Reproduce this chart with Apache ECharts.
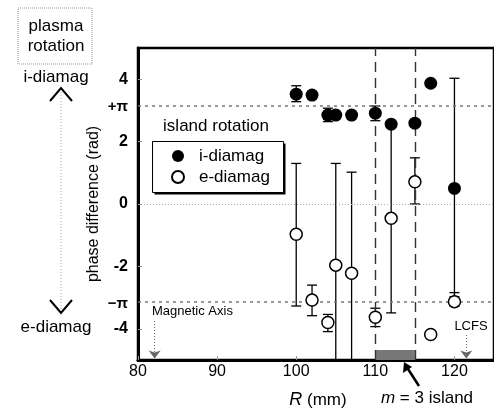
<!DOCTYPE html>
<html>
<head>
<meta charset="utf-8">
<script src="https://cdn.jsdelivr.net/npm/echarts@6/dist/echarts.min.js"></script>
<style>
  html, body { margin: 0; padding: 0; background: #fff; }
  #chart { width: 494px; height: 412px; }
</style>
</head>
<body>
<div id="chart"></div>
<script>
// 岛旋转相位差
const FONT = 'Liberation Sans, Arial, sans-serif';

const xTicks = [80, 90, 100, 110, 120];
const yTicks = [-4, -2, 0, 2, 4];
const piLines = [Math.PI, -Math.PI];
const islandEdges = [110, 115];

// i-diamag (filled)
const iR = [100, 102, 104, 105, 107, 110, 112, 115, 117, 120];
const iPhase = [3.52, 3.49, 2.85, 2.85, 2.85, 2.91, 2.56, 2.59, 3.87, 0.5];
const iLow = [3.28, null, 2.64, null, null, 2.67, null, null, null, -2.97];
const iHigh = [3.79, null, 3.07, null, null, 3.14, null, null, null, 4.03];

// e-diamag (open)
const eR = [100, 102, 104, 105, 107, 110, 112, 115, 117, 120];
const ePhase = [-0.97, -3.08, -3.8, -1.96, -2.22, -3.63, -0.46, 0.71, -4.18, -3.13];
const eLow = [-3.27, -3.58, -4.09, -5.4, -5.4, -3.93, -3.49, 0.0, null, -3.27];
const eHigh = [1.3, -2.6, -3.54, 1.3, 1.02, -3.34, 2.56, 1.48, null, -2.84];

const errData = [];
iR.forEach((r, i) => { if (iLow[i] !== null) errData.push([r, iLow[i], iHigh[i]]); });
eR.forEach((r, i) => { if (eLow[i] !== null) errData.push([r, eLow[i], eHigh[i]]); });

const chart = echarts.init(document.getElementById('chart'));

const capStyle = { stroke: '#000', lineWidth: 1.3 };

chart.setOption({
  animation: false,
  textStyle: { fontFamily: FONT },
  grid: {
    left: 138, top: 48, width: 359, height: 312,
    show: true, borderColor: '#000', borderWidth: 2.5, backgroundColor: '#fff',
  },
  legend: {
    data: ['i-diamag', 'e-diamag'],
    orient: 'vertical',
    left: 152, top: 141,
    padding: [6, 9, 6, 19],
    itemGap: 3,
    itemWidth: 12, itemHeight: 12,
    icon: 'circle',
    textStyle: { fontSize: 17, lineHeight: 18, color: '#000', padding: [0, 0, 0, 10], fontFamily: FONT },
  },
  xAxis: {
    type: 'value', min: 80, max: 125,
    axisLine: { onZero: false, lineStyle: { color: '#000', width: 3 } },
    axisTick: { inside: true, length: 4, lineStyle: { color: '#999' }, customValues: xTicks },
    axisLabel: { customValues: xTicks, color: '#000', fontSize: 16, margin: 4, fontFamily: FONT },
    splitLine: { show: false },
  },
  yAxis: {
    type: 'value', min: -5, max: 5,
    name: 'phase difference (rad)',
    nameLocation: 'middle', nameGap: 36, nameRotate: 90,
    nameTextStyle: { fontSize: 16, color: '#000', fontFamily: FONT },
    axisLine: { onZero: false, lineStyle: { color: '#000', width: 3 } },
    axisTick: { inside: true, length: 4, lineStyle: { color: '#999' }, customValues: yTicks },
    axisLabel: { customValues: yTicks, color: '#000', fontSize: 16, fontWeight: 'bold', margin: 10, fontFamily: FONT },
    splitLine: { show: false },
  },
  series: [
    {
      type: 'custom',
      name: 'err',
      clip: true,
      z: 3,
      data: errData,
      renderItem(params, api) {
        const x = api.value(0);
        const bot = api.coord([x, api.value(1)]);
        const top = api.coord([x, api.value(2)]);
        const hw = 5;
        return {
          type: 'group',
          children: [
            { type: 'line', shape: { x1: top[0], y1: top[1], x2: bot[0], y2: bot[1] }, style: capStyle },
            { type: 'line', shape: { x1: top[0] - hw, y1: top[1], x2: top[0] + hw, y2: top[1] }, style: capStyle },
            { type: 'line', shape: { x1: bot[0] - hw, y1: bot[1], x2: bot[0] + hw, y2: bot[1] }, style: capStyle },
          ],
        };
      },
      markLine: {
        silent: true,
        symbol: 'none',
        label: { show: false },
        data: [
          ...piLines.map((v) => ({ yAxis: v, lineStyle: { color: '#777', type: [3, 4], width: 1.5 } })),
          { yAxis: 0, lineStyle: { color: '#aaa', type: [1, 2], width: 1 } },
          ...islandEdges.map((v) => ({ xAxis: v, lineStyle: { color: '#333', type: [10, 6], width: 1.4 } })),
        ],
      },
      markArea: {
        silent: true,
        itemStyle: { color: '#777' },
        data: [[{ coord: [islandEdges[0], -5] }, { coord: [islandEdges[1], -4.68] }]],
      },
    },
    {
      type: 'scatter',
      name: 'i-diamag',
      z: 5,
      symbolSize: 13,
      itemStyle: { color: '#000', opacity: 1 },
      data: iR.map((r, i) => [r, iPhase[i]]),
      markLine: {
        silent: true,
        symbol: ['none', 'arrow'],
        symbolSize: [9, 8],
        label: { show: false },
        lineStyle: { color: '#666', type: [1, 2], width: 1 },
        data: [
          [{ coord: [82.1, -3.75] }, { coord: [82.1, -4.95] }],
          [{ coord: [121.5, -4.2] }, { coord: [121.5, -4.95] }],
        ],
      },
    },
    {
      type: 'scatter',
      name: 'e-diamag',
      z: 5,
      symbolSize: 12,
      itemStyle: { color: '#fff', borderColor: '#000', borderWidth: 1.5, opacity: 1 },
      data: eR.map((r, i) => [r, ePhase[i]]),
    },
  ],
  graphic: [
    { type: 'rect', z: 1, shape: { x: 154.5, y: 143.5, width: 131, height: 51 }, style: { fill: '#000' } },
    { type: 'rect', z: 2, shape: { x: 152.5, y: 141.5, width: 131, height: 51 }, style: { fill: '#fff', stroke: '#000', lineWidth: 1 } },
    { type: 'rect', shape: { x: 18, y: 8, width: 74, height: 56 }, style: { fill: 'none', stroke: '#999', lineDash: [1, 1] } },
    { type: 'text', x: 56, y: 36, style: { text: 'plasma\nrotation', font: '17px ' + FONT, fill: '#000', align: 'center', verticalAlign: 'middle', lineHeight: 20 } },
    { type: 'text', x: 56, y: 77, style: { text: 'i-diamag', font: '17px ' + FONT, fill: '#000', align: 'center', verticalAlign: 'middle' } },
    { type: 'polyline', shape: { points: [[50, 101], [61, 88], [72, 101]] }, style: { stroke: '#000', lineWidth: 2, fill: 'none' } },
    { type: 'line', shape: { x1: 61, y1: 92, x2: 61, y2: 310 }, style: { stroke: '#aaa', lineWidth: 1, lineDash: [1, 2] } },
    { type: 'polyline', shape: { points: [[50, 300], [61, 313], [72, 300]] }, style: { stroke: '#000', lineWidth: 2, fill: 'none' } },
    { type: 'text', x: 56, y: 327, style: { text: 'e-diamag', font: '17px ' + FONT, fill: '#000', align: 'center', verticalAlign: 'middle' } },
    { type: 'text', x: 128, y: 107, style: { text: '+\u03c0', font: 'bold 15px ' + FONT, fill: '#000', align: 'right', verticalAlign: 'middle' } },
    { type: 'text', x: 128, y: 304, style: { text: '\u2212\u03c0', font: 'bold 15px ' + FONT, fill: '#000', align: 'right', verticalAlign: 'middle' } },
    { type: 'text', x: 216, y: 126, z: 10, style: { text: 'island rotation', font: '17px ' + FONT, fill: '#000', align: 'center', verticalAlign: 'middle' } },
    { type: 'text', x: 152, y: 311, z: 10, style: { text: 'Magnetic Axis', font: '13px ' + FONT, fill: '#000', align: 'left', verticalAlign: 'middle' } },
    { type: 'text', x: 471, y: 326, z: 10, style: { text: 'LCFS', font: '13px ' + FONT, fill: '#000', align: 'center', verticalAlign: 'middle' } },
    { type: 'polyline', shape: { points: [[419, 386], [408, 369]] }, style: { stroke: '#000', lineWidth: 2.5, fill: 'none' } },
    { type: 'polygon', shape: { points: [[404, 362], [403, 373], [412, 367]] }, style: { fill: '#000' } },
    {
      type: 'text', x: 427, y: 398,
      style: {
        text: '{i|m} = 3 island', align: 'center', verticalAlign: 'middle', fill: '#000', font: '17px ' + FONT,
        rich: { i: { fontStyle: 'italic', fontSize: 17, fontFamily: FONT } },
      },
    },
    {
      type: 'text', x: 318, y: 400,
      style: {
        text: '{i|R} (mm)', align: 'center', verticalAlign: 'middle', fill: '#000', font: '17px ' + FONT,
        rich: { i: { fontStyle: 'italic', fontSize: 18, fontFamily: FONT } },
      },
    },
  ],
});
</script>
</body>
</html>
